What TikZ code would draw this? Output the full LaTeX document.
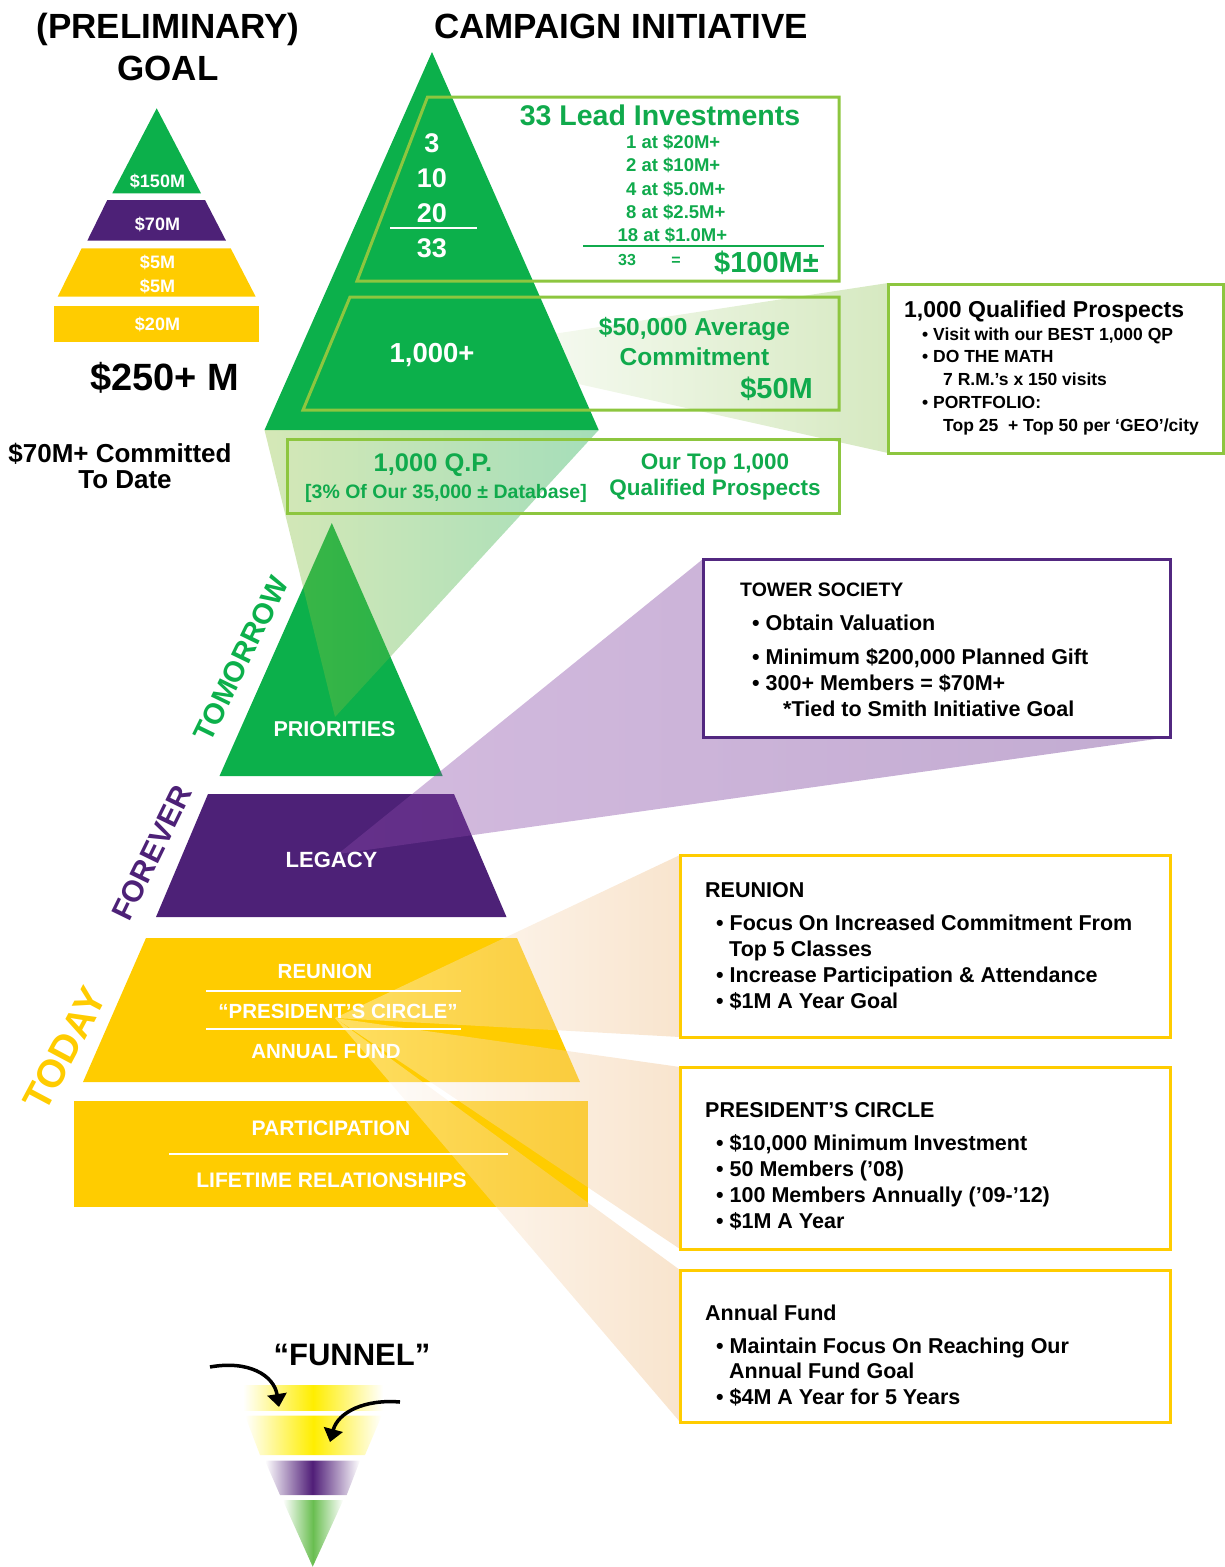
\documentclass[tikz,border=0pt]{standalone}
\usepackage{fontspec}
\setmainfont{Liberation Sans}
\usetikzlibrary{arrows.meta}
\definecolor{pgreen}{RGB}{12,176,75}
\definecolor{tgreen}{RGB}{16,170,76}
\definecolor{lgreen}{RGB}{141,198,63}
\definecolor{ppurple}{RGB}{77,33,119}
\definecolor{bpurple}{RGB}{82,40,128}
\definecolor{pyellow}{RGB}{255,204,0}
\definecolor{qpwedge}{RGB}{214,233,193}
\definecolor{beamL}{RGB}{145,195,66}
\definecolor{beamR}{RGB}{18,168,71}
\definecolor{purpL}{RGB}{140,75,170}
\definecolor{purpR}{RGB}{95,35,135}
\definecolor{ywedge}{RGB}{238,185,125}
\definecolor{fyellow}{RGB}{255,238,0}
\definecolor{fpurple}{RGB}{80,30,120}
\definecolor{fgreen}{RGB}{105,190,80}
\newcommand\fsz[1]{\fontsize{#1}{#1}\selectfont\bfseries}
\tikzset{
  tx/.style={inner sep=0pt, anchor=base},
  txw/.style={inner sep=0pt, anchor=base west},
  txe/.style={inner sep=0pt, anchor=base east},
  bx/.style={line width=3pt},
  wline/.style={white, line width=1.6pt},
  farrow/.style={line width=3.5pt, -{Triangle[length=13pt,width=19pt]}},
}
\begin{document}
\begin{tikzpicture}[x=1pt,y=-1pt]
\useasboundingbox (0,0) rectangle (1225,1567);

% ---- wedge to qualified prospects box
\shade[left color=white, right color=qpwedge] (435,352) -- (888,283) -- (888,453) -- cycle;

% ---- campaign pyramid
\fill[pgreen] (432,52) -- (598.7,430) -- (264.5,430) -- cycle;
\draw[lgreen, bx] (427.5,97) -- (839,97) -- (839,281) -- (357,281) -- cycle;
\draw[lgreen, bx] (350,297) -- (839,297) -- (839,410) -- (303,410) -- cycle;

% ---- lower pyramid
\fill[pgreen] (331.8,523) -- (442.7,776) -- (219.5,776) -- cycle;
\fill[ppurple] (208,794) -- (454,794) -- (506.5,917) -- (156,917) -- cycle;
\fill[pyellow] (146,938) -- (517,938) -- (580,1082) -- (83,1082) -- cycle;
\fill[pyellow] (74,1101) rectangle (588,1207);

% ---- green beam
\shade[left color=beamL, right color=beamR, fill opacity=0.38] (264.5,430) -- (598.7,430) -- (335,717) -- cycle;
\draw[lgreen, bx] (287.5,439) rectangle (839,513);

% ---- purple wedge
\shade[left color=purpL, right color=purpR, fill opacity=0.38] (338,854) -- (703,559) -- (1170,737) -- cycle;

% ---- yellow wedges
\shade[left color=white, right color=ywedge, fill opacity=0.38] (335,1018) -- (680,855) -- (680,1037) -- cycle;
\shade[left color=white, right color=ywedge, fill opacity=0.38] (335,1018) -- (680,1067) -- (680,1249) -- cycle;
\shade[left color=white, right color=ywedge, fill opacity=0.38] (335,1018) -- (680,1270) -- (680,1422) -- cycle;

% ---- boxes
\draw[lgreen, bx, fill=white] (888,284) rectangle (1223,453);
\draw[bpurple, bx, fill=white] (703,559) rectangle (1170,737);
\draw[pyellow, bx, fill=white] (680,855) rectangle (1170,1037);
\draw[pyellow, bx, fill=white] (680,1067) rectangle (1170,1249);
\draw[pyellow, bx, fill=white] (680,1270) rectangle (1170,1422);

% ---- preliminary goal pyramid
\fill[pgreen] (156.7,108.3) -- (201,193.3) -- (112.3,193.3) -- cycle;
\fill[ppurple] (107.3,200) -- (205,200) -- (226,240.7) -- (87.3,240.7) -- cycle;
\fill[pyellow] (81.7,248.3) -- (230.7,248.3) -- (255.7,296.7) -- (57.7,296.7) -- cycle;
\fill[pyellow] (54,306) rectangle (259,341.7);

% ---- white / green rules
\draw[white, line width=2.5pt] (390,228) -- (477,228);
\draw[tgreen, line width=1.5pt] (583,246) -- (824,246);
\draw[wline] (206,991) -- (461,991);
\draw[wline] (206,1029) -- (461,1029);
\draw[wline] (169,1154) -- (508,1154);

% ---- titles
\node[tx, font=\fsz{35}] (tprel) at (168,38.5) {(PRELIMINARY)};
\node[tx, font=\fsz{35}] (tgoal) at (168,80) {GOAL};
\node[tx, font=\fsz{35}] (tcamp) at (621,38.5) {CAMPAIGN INITIATIVE};

% ---- goal pyramid texts
\node[tx, text=white, font=\fsz{18}] (g1) at (157.5,187) {\$150M};
\node[tx, text=white, font=\fsz{18}] (g2) at (157.5,230) {\$70M};
\node[tx, text=white, font=\fsz{18}] (g3) at (157.5,268.5) {\$5M};
\node[tx, text=white, font=\fsz{18}] (g4) at (157.5,292.5) {\$5M};
\node[tx, text=white, font=\fsz{18}] (g5) at (157.5,330) {\$20M};
\node[tx, font=\fsz{38}] (gtot) at (164.5,390) {\$250+ M};
\node[tx, font=\fsz{26}] (gc1) at (120,462) {\$70M+ Committed};
\node[tx, font=\fsz{26}] (gc2) at (125,488) {To Date};

% ---- box 1 texts
\node[tx, text=white, font=\fsz{27}] (n3) at (432,152) {3};
\node[tx, text=white, font=\fsz{27}] (n10) at (432,187) {10};
\node[tx, text=white, font=\fsz{27}] (n20) at (432,222) {20};
\node[tx, text=white, font=\fsz{27}] (n33) at (432,257.5) {33};
\node[tx, text=tgreen, font=\fsz{28.5}] (lead) at (660,125) {33 Lead Investments};
\node[txw, text=tgreen, font=\fsz{18.5}] (l1) at (626,148) {1 at \$20M+};
\node[txw, text=tgreen, font=\fsz{18.5}] (l2) at (626,171.5) {2 at \$10M+};
\node[txw, text=tgreen, font=\fsz{18.5}] (l3) at (626,195) {4 at \$5.0M+};
\node[txw, text=tgreen, font=\fsz{18.5}] (l4) at (626,218) {8 at \$2.5M+};
\node[txw, text=tgreen, font=\fsz{18.5}] (l5) at (617.5,241) {18 at \$1.0M+};
\node[tx, text=tgreen, font=\fsz{16}] (s33) at (627,265) {33};
\node[tx, text=tgreen, font=\fsz{16}] (seq) at (676,265) {=};
\node[txe, text=tgreen, font=\fsz{29}] (s100) at (819,272) {\$100M±};

% ---- box 2 texts
\node[tx, text=white, font=\fsz{27.5}] (k1000) at (432,362) {1,000+};
\node[tx, text=tgreen, font=\fsz{24.5}] (avg1) at (694.5,335) {\$50,000 Average};
\node[tx, text=tgreen, font=\fsz{24.5}] (avg2) at (694.5,365) {Commitment};
\node[txe, text=tgreen, font=\fsz{29}] (m50) at (813,398) {\$50M};

% ---- box 3 texts
\node[tx, text=tgreen, font=\fsz{25.5}] (qp) at (433,471) {1,000 Q.P.};
\node[tx, text=tgreen, font=\fsz{19.5}] (qp2) at (446,498) {[3\% Of Our 35,000 ± Database]};
\node[tx, text=tgreen, font=\fsz{22.5}] (top1) at (715,469) {Our Top 1,000};
\node[tx, text=tgreen, font=\fsz{22.5}] (top2) at (715,495) {Qualified Prospects};

% ---- qualified prospects box texts
\node[txw, font=\fsz{23}] (q0) at (904,317) {1,000 Qualified Prospects};
\node[txw, font=\fsz{17.5}] (q1) at (922,340) {• Visit with our BEST 1,000 QP};
\node[txw, font=\fsz{17.5}] (q2) at (922,362) {• DO THE MATH};
\node[txw, font=\fsz{17.5}] (q3) at (943,385) {7 R.M.’s x 150 visits};
\node[txw, font=\fsz{17.5}] (q4) at (922,408) {• PORTFOLIO:};
\node[txw, font=\fsz{17.5}] (q5) at (943,431) {Top 25\ \ + Top 50 per ‘GEO’/city};

% ---- tower society box
\node[txw, font=\fsz{19.5}] (ts0) at (740,596) {TOWER SOCIETY};
\node[txw, font=\fsz{21.5}] (ts1) at (752,630) {• Obtain Valuation};
\node[txw, font=\fsz{21.5}] (ts2) at (752,664) {• Minimum \$200,000 Planned Gift};
\node[txw, font=\fsz{21.5}] (ts3) at (752,690) {• 300+ Members = \$70M+};
\node[txw, font=\fsz{21.5}] (ts4) at (783,716) {*Tied to Smith Initiative Goal};

% ---- reunion box
\node[txw, font=\fsz{21.5}] (r0) at (705,897) {REUNION};
\node[txw, font=\fsz{21.5}] (r1) at (716,930.5) {• Focus On Increased Commitment From};
\node[txw, font=\fsz{21.5}] (r2) at (729,956.5) {Top 5 Classes};
\node[txw, font=\fsz{21.5}] (r3) at (716,982.5) {• Increase Participation \& Attendance};
\node[txw, font=\fsz{21.5}] (r4) at (716,1008.5) {• \$1M A Year Goal};

% ---- president's circle box
\node[txw, font=\fsz{21.5}] (p0) at (705,1117) {PRESIDENT’S CIRCLE};
\node[txw, font=\fsz{21.5}] (p1) at (716,1150) {• \$10,000 Minimum Investment};
\node[txw, font=\fsz{21.5}] (p2) at (716,1176) {• 50 Members (’08)};
\node[txw, font=\fsz{21.5}] (p3) at (716,1202) {• 100 Members Annually (’09-’12)};
\node[txw, font=\fsz{21.5}] (p4) at (716,1228) {• \$1M A Year};

% ---- annual fund box
\node[txw, font=\fsz{21.5}] (a0) at (705,1320) {Annual Fund};
\node[txw, font=\fsz{21.5}] (a1) at (716,1353.5) {• Maintain Focus On Reaching Our};
\node[txw, font=\fsz{21.5}] (a2) at (729,1378.5) {Annual Fund Goal};
\node[txw, font=\fsz{21.5}] (a3) at (716,1404.5) {• \$4M A Year for 5 Years};

% ---- pyramid labels
\node[tx, text=white, font=\fsz{21.5}] (pri) at (334.5,736) {PRIORITIES};
\node[tx, text=white, font=\fsz{22}] (leg) at (331.5,867) {LEGACY};
\node[tx, text=white, font=\fsz{20.5}] (reu) at (325,978) {REUNION};
\node[tx, text=white, font=\fsz{20.5}] (prc) at (338,1018) {“PRESIDENT’S CIRCLE”};
\node[tx, text=white, font=\fsz{20.5}] (anf) at (326,1058) {ANNUAL FUND};
\node[tx, text=white, font=\fsz{21}] (par) at (331,1135) {PARTICIPATION};
\node[tx, text=white, font=\fsz{21}] (lif) at (331.5,1187) {LIFETIME RELATIONSHIPS};

% ---- side labels
\node[inner sep=0pt, rotate=64, text=pgreen, font=\fsz{29}] (tom) at (241,659) {TOMORROW};
\node[inner sep=0pt, rotate=64, text=ppurple, font=\fsz{30}] (fev) at (152,853) {FOREVER};
\node[inner sep=0pt, rotate=62, text=pyellow, font=\fsz{39}] (tod) at (65,1049) {TODAY};

% ---- funnel
\node[tx, font=\fsz{31}] (fun) at (352,1365) {“FUNNEL”};
\shade[left color=white, right color=white, middle color=fyellow] (243,1385.7) rectangle (383,1410);
\shade[left color=white, right color=white, middle color=fyellow] (245,1415.7) -- (381.7,1415.7) -- (365,1455) -- (260,1455) -- cycle;
\shade[left color=white, right color=white, middle color=fpurple] (265,1460.7) -- (360,1460.7) -- (346.7,1495) -- (280,1495) -- cycle;
\shade[left color=white, right color=white, middle color=fgreen] (282.7,1500) -- (343.3,1500) -- (312.7,1566.7) -- cycle;
\coordinate (a1s) at (210,1367);
\coordinate (a1e) at (279,1407);
\coordinate (a2s) at (400,1402);
\coordinate (a2e) at (330,1442);
\draw[farrow] (a1s) .. controls (248,1360) and (274,1375) .. (a1e);
\draw[farrow] (a2s) .. controls (365,1399) and (338,1412) .. (a2e);
\end{tikzpicture}
\end{document}
